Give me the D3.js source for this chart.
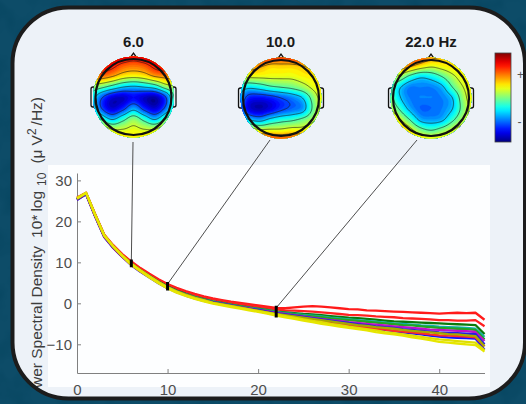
<!DOCTYPE html>
<html><head><meta charset="utf-8">
<script src="https://cdn.jsdelivr.net/npm/d3@7"></script>
<style>html,body{margin:0;padding:0;background:#0c4a65;}svg{display:block}</style>
</head><body>
<svg id="c" width="526" height="404"></svg>
<script>
// ---- data ----
const freqs = [0,1,2,3,4,5,6,7,8,9,10,11,12,13,14,15,16,17,18,19,20,21,22,23,24,25,26,27,28,29,30,31,32,33,34,35,36,37,38,39,40,41,42,43,44,45];

const chRedTop = [25.8,27.0,21.8,16.8,14.2,12.0,10.2,8.6,7.2,5.9,4.7,3.8,3.0,2.3,1.7,1.2,0.8,0.4,0.1,-0.2,-0.5,-0.8,-1.1,-1.2,-1.0,-0.8,-0.7,-0.8,-1.0,-1.2,-1.4,-1.5,-1.7,-1.8,-1.9,-2.0,-2.1,-2.2,-2.3,-2.4,-2.5,-2.4,-2.3,-2.4,-2.3,-4.0];
const chRedMid = [25.6,26.9,21.7,16.7,14.0,11.9,10.0,8.4,7.0,5.7,4.5,3.6,2.8,2.1,1.5,1.0,0.6,0.2,-0.2,-0.5,-0.8,-1.1,-1.5,-1.7,-1.8,-1.9,-2.0,-2.2,-2.4,-2.6,-2.8,-2.9,-3.0,-3.2,-3.3,-3.4,-3.6,-3.7,-3.8,-3.9,-4.1,-4.1,-4.2,-4.2,-4.1,-5.6];
const chGreenDark = [25.4,26.8,21.5,16.5,13.8,11.6,9.7,8.1,6.7,5.3,4.1,3.1,2.3,1.6,1.0,0.5,0.1,-0.3,-0.7,-1.0,-1.3,-1.6,-2.0,-2.2,-2.4,-2.6,-2.7,-2.9,-3.1,-3.3,-3.5,-3.6,-3.8,-4.0,-4.2,-4.4,-4.5,-4.6,-4.7,-4.8,-4.9,-5.0,-5.1,-5.2,-5.3,-7.5];
const chTeal = [25.5,26.8,21.4,16.4,13.7,11.5,9.6,8.0,6.6,5.2,4.0,3.0,2.2,1.5,0.9,0.4,0.0,-0.4,-0.8,-1.1,-1.4,-1.7,-2.1,-2.4,-2.6,-2.8,-3.0,-3.2,-3.5,-3.7,-3.9,-4.1,-4.3,-4.5,-4.7,-4.9,-5.0,-5.2,-5.4,-5.5,-5.7,-5.8,-5.9,-6.0,-6.2,-8.2];
const chGreen = [25.4,26.7,21.4,16.4,13.7,11.5,9.6,8.0,6.6,5.2,4.0,3.0,2.2,1.5,0.9,0.4,0.0,-0.4,-0.8,-1.1,-1.5,-1.8,-2.2,-2.5,-2.7,-3.0,-3.2,-3.4,-3.7,-3.9,-4.1,-4.3,-4.5,-4.7,-4.9,-5.1,-5.3,-5.4,-5.6,-5.8,-6.0,-6.1,-6.2,-6.3,-6.5,-8.8];
const chMagenta = [25.3,26.7,21.3,16.3,13.6,11.4,9.5,7.9,6.5,5.1,3.9,2.9,2.1,1.4,0.8,0.3,-0.1,-0.5,-0.9,-1.2,-1.6,-1.9,-2.3,-2.6,-2.9,-3.2,-3.5,-3.8,-4.1,-4.3,-4.6,-4.8,-5.0,-5.2,-5.4,-5.6,-5.8,-6.0,-6.2,-6.4,-6.5,-6.6,-6.7,-6.8,-7.0,-9.2];
const chBlue = [25.2,26.6,21.2,16.2,13.5,11.3,9.3,7.7,6.3,4.9,3.7,2.7,1.9,1.2,0.6,0.1,-0.3,-0.7,-1.1,-1.5,-1.9,-2.3,-2.7,-3.0,-3.4,-3.7,-4.0,-4.4,-4.7,-5.0,-5.3,-5.6,-5.9,-6.2,-6.5,-6.8,-7.1,-7.3,-7.6,-7.9,-8.1,-8.3,-8.4,-8.5,-8.6,-11.3];
const chRedLow = [25.3,26.7,21.3,16.3,13.6,11.4,9.4,7.8,6.4,5.0,3.8,2.8,2.0,1.3,0.7,0.2,-0.2,-0.6,-1.0,-1.4,-1.8,-2.2,-2.6,-3.0,-3.4,-3.7,-4.1,-4.4,-4.7,-5.0,-5.3,-5.6,-5.9,-6.2,-6.4,-6.7,-6.9,-7.1,-7.3,-7.6,-7.8,-7.9,-8.0,-8.1,-8.3,-10.5];
const chBlueMid = [25.4,26.8,21.4,16.4,13.7,11.5,9.5,7.9,6.5,5.1,3.9,2.9,2.1,1.4,0.8,0.3,-0.1,-0.5,-0.9,-1.3,-1.6,-2.0,-2.4,-2.7,-3.0,-3.3,-3.6,-3.9,-4.2,-4.5,-4.8,-5.1,-5.3,-5.6,-5.8,-6.0,-6.3,-6.5,-6.7,-6.9,-7.1,-7.2,-7.3,-7.4,-7.5,-10.0];
const chOlive = [25.5,26.9,21.6,16.6,13.9,11.6,9.6,8.0,6.5,5.1,3.9,2.9,2.1,1.4,0.8,0.2,-0.2,-0.6,-1.0,-1.4,-1.8,-2.2,-2.6,-2.9,-3.2,-3.5,-3.8,-4.1,-4.4,-4.7,-5.0,-5.3,-5.5,-5.8,-6.0,-6.2,-6.5,-6.7,-6.9,-7.1,-7.3,-7.5,-7.6,-7.8,-8.0,-10.5];
const chYellowMid = [25.7,27.0,21.7,16.7,14.0,11.7,9.7,8.1,6.6,5.2,3.9,2.9,2.0,1.3,0.7,0.1,-0.3,-0.7,-1.1,-1.5,-1.9,-2.3,-2.7,-3.1,-3.5,-3.9,-4.3,-4.6,-5.0,-5.3,-5.7,-6.0,-6.3,-6.6,-7.0,-7.3,-7.6,-7.9,-8.2,-8.5,-8.8,-9.0,-9.2,-9.4,-9.6,-11.4];
const chYellowLow = [25.6,26.9,21.5,16.5,13.8,11.5,9.4,7.8,6.3,4.9,3.6,2.6,1.8,1.1,0.5,-0.1,-0.5,-0.9,-1.3,-1.7,-2.1,-2.5,-3.0,-3.4,-3.8,-4.2,-4.6,-5.0,-5.3,-5.7,-6.0,-6.3,-6.6,-7.0,-7.3,-7.6,-7.9,-8.3,-8.6,-9.0,-9.4,-9.6,-9.8,-10.0,-10.2,-11.8];

const channels = [chRedTop, chRedMid, chGreenDark, chTeal, chGreen, chMagenta, chBlue, chRedLow, chBlueMid, chOlive, chYellowMid, chYellowLow];
const channelColors = ['#ff1a1a','#ff2020','#0a7a0a','#10b0a8','#22a622','#c010c8','#1010ff','#ff2a2a','#2020e0','#a8a800','#dede00','#e6e600'];

// scalp maps (relative power, rows front -> back, columns left -> right)
const topo6 = [
  [1.0,1.0,1.0,0.9,0.8,0.9,1.0,1.0,1.0],
  [0.9,0.85,0.75,0.6,0.55,0.6,0.75,0.85,0.9],
  [0.55,0.55,0.45,0.3,0.25,0.3,0.45,0.5,0.55],
  [0.1,0.0,-0.15,-0.3,-0.35,-0.3,-0.2,0.05,0.15],
  [-0.2,-0.55,-0.8,-0.85,-0.75,-0.85,-0.9,-0.6,0.0],
  [-0.15,-0.6,-0.85,-0.7,-0.45,-0.7,-0.85,-0.55,0.0],
  [0.2,-0.15,-0.4,-0.2,0.0,-0.2,-0.4,-0.1,0.2],
  [0.5,0.35,0.15,0.15,0.2,0.15,0.15,0.35,0.5],
  [0.7,0.6,0.45,0.3,0.3,0.3,0.45,0.6,0.7]
];
const topo10 = [
  [0.9,0.9,0.85,0.75,0.7,0.75,0.85,0.9,0.9],
  [0.6,0.55,0.45,0.35,0.35,0.35,0.4,0.5,0.6],
  [0.2,0.2,0.2,0.2,0.2,0.2,0.25,0.3,0.4],
  [-0.2,-0.3,-0.25,-0.15,-0.1,-0.05,0.05,0.2,0.35],
  [-0.35,-0.7,-0.75,-0.7,-0.6,-0.5,-0.35,0.0,0.3],
  [-0.4,-0.8,-0.9,-0.8,-0.65,-0.55,-0.45,-0.05,0.25],
  [-0.1,-0.35,-0.45,-0.3,-0.2,-0.15,-0.05,0.1,0.3],
  [0.45,0.3,0.2,0.2,0.2,0.25,0.25,0.35,0.45],
  [0.9,0.85,0.8,0.7,0.65,0.65,0.7,0.75,0.8]
];
const topo22 = [
  [0.8,0.8,0.75,0.65,0.5,0.4,0.35,0.35,0.35],
  [0.6,0.55,0.45,0.3,0.2,0.25,0.3,0.3,0.3],
  [0.2,0.1,-0.15,-0.3,-0.25,-0.1,0.1,0.25,0.3],
  [0.0,-0.3,-0.5,-0.5,-0.5,-0.4,-0.1,0.15,0.3],
  [0.05,-0.3,-0.5,-0.5,-0.5,-0.5,-0.35,0.05,0.3],
  [0.2,-0.1,-0.4,-0.55,-0.55,-0.5,-0.35,0.0,0.25],
  [0.5,0.2,-0.1,-0.4,-0.45,-0.4,-0.15,0.1,0.25],
  [0.75,0.5,0.25,0.0,-0.1,0.0,0.15,0.25,0.3],
  [0.8,0.7,0.5,0.35,0.3,0.3,0.3,0.3,0.3]
];

const markerFreqs = [6, 10, 22];
const markerLabels = ['6.0', '10.0', '22.0 Hz'];
const topoMaps = [topo6, topo10, topo22];
const xTicks = [0, 10, 20, 30, 40];
const yTicks = [-10, 0, 10, 20, 30];

// ---- drawing ----
const W = 526, H = 404;
const svg = d3.select('#c');
const defs = svg.append('defs');

const clamp01 = v => Math.max(0, Math.min(1, v));
function jet(t) {
  t = clamp01(t);
  const r = clamp01(1.5 - Math.abs(4 * t - 3));
  const g = clamp01(1.5 - Math.abs(4 * t - 2));
  const b = clamp01(1.5 - Math.abs(4 * t - 1));
  return d3.rgb(r * 255, g * 255, b * 255).formatHex();
}

// mottled slate background
const mottle = defs.append('filter').attr('id', 'mottle').attr('x', 0).attr('y', 0).attr('width', 1).attr('height', 1);
mottle.append('feTurbulence').attr('type', 'fractalNoise').attr('baseFrequency', 0.035).attr('numOctaves', 3).attr('seed', 7);
mottle.append('feColorMatrix').attr('type', 'matrix')
  .attr('values', '0 0 0 0 0  0 0 0 0 0.05  0 0 0 0 0.1  0 0 0 -2.2 1.25');
svg.append('rect').attr('width', W).attr('height', H).attr('fill', '#0d4c68');
svg.append('rect').attr('width', W).attr('height', H).attr('filter', 'url(#mottle)').attr('opacity', 0.45);

const panel = {x: 12.5, y: 7.5, w: 512.5, h: 391, r: 56};
defs.append('clipPath').attr('id', 'panel-clip')
  .append('rect').attr('x', panel.x).attr('y', panel.y).attr('width', panel.w).attr('height', panel.h)
  .attr('rx', panel.r).attr('ry', panel.r);

svg.append('rect').attr('x', panel.x).attr('y', panel.y).attr('width', panel.w).attr('height', panel.h)
  .attr('rx', panel.r).attr('ry', panel.r).attr('fill', '#edf2f8');

const g = svg.append('g').attr('clip-path', 'url(#panel-clip)');
g.append('rect').attr('x', 48).attr('y', 165).attr('width', 442).attr('height', 222).attr('fill', '#fdfeff');

const x = d3.scaleLinear().domain([0, 45]).range([77, 484.5]);
const y = d3.scaleLinear().domain([-17, 31.8]).range([373, 173]);
const font = '"Liberation Sans", Arial, sans-serif';

// axes
const yAxis = g.append('g').attr('transform', `translate(${x(0)},0)`)
  .call(d3.axisLeft(y).tickValues(yTicks).tickSizeInner(-4).tickSizeOuter(0).tickPadding(5).tickFormat(d3.format('d')));
const xAxis = g.append('g').attr('transform', `translate(0,${y(-17)})`)
  .call(d3.axisBottom(x).tickValues(xTicks).tickSizeInner(-4).tickSizeOuter(0).tickPadding(11));
[yAxis, xAxis].forEach(a => {
  a.select('.domain').attr('stroke', '#808080').attr('stroke-width', 1);
  a.selectAll('.tick line').attr('stroke', '#808080');
  a.selectAll('.tick text').attr('fill', '#4d4d4d').style('font-family', font).style('font-size', '15px');
});

// spectra
const line = d3.line().x((d, i) => x(freqs[i])).y(d => y(d));
g.append('g').selectAll('path').data(channels).join('path')
  .attr('d', line).attr('fill', 'none')
  .attr('stroke', (d, i) => channelColors[i]).attr('stroke-width', 2.3)
  .attr('stroke-linejoin', 'round');

// head geometry
const heads = [{cx: 133.5, cy: 97}, {cx: 281, cy: 98}, {cx: 431, cy: 98}];
const headR = 38;
const leaderEnds = [[133, 142], [270, 140], [417, 140]];

// frequency markers and leader lines
markerFreqs.forEach((f, k) => {
  const idx = freqs.indexOf(f);
  const vals = channels.map(c => c[idx]);
  const [lo, hi] = d3.extent(vals);
  g.append('line').attr('x1', leaderEnds[k][0]).attr('y1', leaderEnds[k][1])
    .attr('x2', x(f)).attr('y2', y(hi))
    .attr('stroke', '#3a3a3a').attr('stroke-width', 0.9);
  g.append('line').attr('x1', x(f)).attr('x2', x(f))
    .attr('y1', y(hi) - 2).attr('y2', y(lo) + 2)
    .attr('stroke', '#000').attr('stroke-width', 3);
});

// bicubic resampling of a scalp grid
function resample(grid, N) {
  const n = grid.length, m = grid[0].length;
  const at = (r, c) => grid[Math.max(0, Math.min(n - 1, r))][Math.max(0, Math.min(m - 1, c))];
  const cub = (p0, p1, p2, p3, t) => p1 + 0.5 * t * (p2 - p0 + t * (2 * p0 - 5 * p1 + 4 * p2 - p3 + t * (3 * (p1 - p2) + p3 - p0)));
  const out = new Array(N * N);
  for (let j = 0; j < N; j++) {
    const gy = j / (N - 1) * (n - 1), r = Math.min(n - 2, Math.floor(gy)), ty = gy - r;
    for (let i = 0; i < N; i++) {
      const gx = i / (N - 1) * (m - 1), c = Math.min(m - 2, Math.floor(gx)), tx = gx - c;
      const rows = [-1, 0, 1, 2].map(k => cub(at(r + k, c - 1), at(r + k, c), at(r + k, c + 1), at(r + k, c + 2), tx));
      out[j * N + i] = cub(rows[0], rows[1], rows[2], rows[3], ty);
    }
  }
  return out;
}

const N = 81;
const fillStep = 0.05;
const fillLevels = d3.range(-1.1, 1.1, fillStep);
const lineLevels = [-0.6, -0.35, -0.1, 0.15, 0.4, 0.65];

heads.forEach((h, k) => {
  const hg = g.append('g');
  // ears
  [-1, 1].forEach(s => {
    hg.append('rect').attr('x', s < 0 ? h.cx - headR - 4.5 : h.cx + headR - 0.5).attr('y', h.cy - 10)
      .attr('width', 5).attr('height', 20).attr('rx', 2)
      .attr('fill', '#e6eaee').attr('stroke', '#111').attr('stroke-width', 1.3);
  });
  // nose
  hg.append('path')
    .attr('d', `M${h.cx - 5},${h.cy - headR + 1}L${h.cx},${h.cy - headR - 6}L${h.cx + 5},${h.cy - headR + 1}Z`)
    .attr('fill', '#f2e6e0').attr('stroke', '#111').attr('stroke-width', 1.3);

  const clipId = 'head-clip-' + k;
  defs.append('clipPath').attr('id', clipId)
    .append('circle').attr('cx', h.cx).attr('cy', h.cy).attr('r', headR + 2.5);

  const G = headR + 5;
  const kk = 2 * G / (N - 1);
  const proj = d3.geoIdentity().scale(kk).translate([h.cx - G - 0.5 * kk, h.cy - G - 0.5 * kk]);
  const path = d3.geoPath(proj);
  const values = resample(topoMaps[k], N);

  const mg = hg.append('g').attr('clip-path', `url(#${clipId})`);
  const bands = d3.contours().size([N, N]).thresholds(fillLevels)(values);
  mg.selectAll('path.band').data(bands).join('path').attr('class', 'band')
    .attr('d', path).attr('fill', d => jet((d.value + fillStep / 2 + 1) / 2))
    .attr('stroke', d => jet((d.value + fillStep / 2 + 1) / 2)).attr('stroke-width', 0.3);
  const isolines = d3.contours().size([N, N]).thresholds(lineLevels)(values);
  mg.selectAll('path.iso').data(isolines).join('path').attr('class', 'iso')
    .attr('d', path).attr('fill', 'none').attr('stroke', '#1a1a1a')
    .attr('stroke-width', 0.7).attr('stroke-opacity', 0.85);

  hg.append('circle').attr('cx', h.cx).attr('cy', h.cy).attr('r', headR)
    .attr('fill', 'none').attr('stroke', '#111').attr('stroke-width', 2.2);

  g.append('text').attr('x', h.cx - (k === 1 ? 0.5 : 0)).attr('y', 47)
    .attr('text-anchor', 'middle').style('font-family', font).style('font-size', '15px')
    .style('font-weight', 'bold').attr('fill', '#1a1a1a').text(markerLabels[k]);
});

// colour bar
const grad = defs.append('linearGradient').attr('id', 'jet-grad')
  .attr('x1', 0).attr('y1', 1).attr('x2', 0).attr('y2', 0);
d3.range(0, 1.0001, 0.05).forEach(t => {
  grad.append('stop').attr('offset', t).attr('stop-color', jet(t));
});
g.append('rect').attr('x', 495).attr('y', 53).attr('width', 16).attr('height', 89)
  .attr('fill', 'url(#jet-grad)').attr('stroke', '#444').attr('stroke-width', 0.8);
g.append('text').attr('x', 520.5).attr('y', 79).attr('text-anchor', 'middle')
  .style('font-family', font).style('font-size', '12px').attr('fill', '#555').text('+');
g.append('text').attr('x', 519.5).attr('y', 126).attr('text-anchor', 'middle')
  .style('font-family', font).style('font-size', '12px').attr('fill', '#555').text('-');

// y-axis title
const yt = g.append('text').attr('transform', 'translate(42,97) rotate(-90)')
  .attr('text-anchor', 'end').style('font-family', font).style('font-size', '15.5px').attr('fill', '#3c3c3c');
yt.append('tspan').text('Power Spectral Density');
yt.append('tspan').attr('dx', 8).text('10*');
yt.append('tspan').attr('dx', 3).text('log');
yt.append('tspan').attr('dy', 4).attr('dx', 5).style('font-size', '12px').text('10');
yt.append('tspan').attr('dy', -4).attr('dx', 9).text('(\u03bc');
yt.append('tspan').attr('dx', 4).text('V');
yt.append('tspan').attr('dy', -6).style('font-size', '12px').text('2');
yt.append('tspan').attr('dy', 6).attr('dx', 3).text('/Hz)');

// panel frame
svg.append('rect').attr('x', panel.x).attr('y', panel.y).attr('width', panel.w).attr('height', panel.h)
  .attr('rx', panel.r).attr('ry', panel.r).attr('fill', 'none').attr('stroke', '#1c1c1c').attr('stroke-width', 4);
</script>
</body></html>
